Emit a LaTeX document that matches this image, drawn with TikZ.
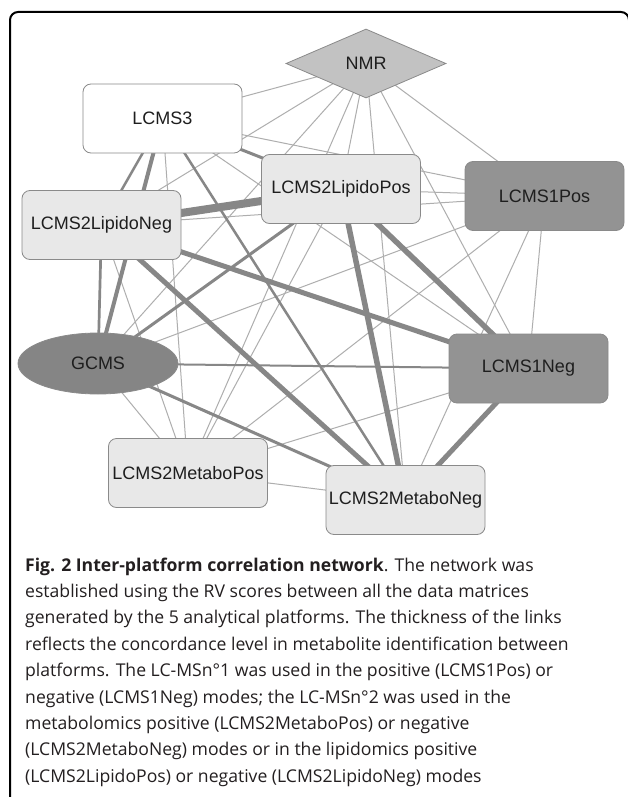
\documentclass[tikz,border=0pt]{standalone}
\usepackage{fontspec}
\setmainfont{Liberation Sans}
\newfontfamily\capfont{Open Sans}
\usetikzlibrary{shapes.geometric,backgrounds}
\definecolor{edgegray}{HTML}{878787}
\definecolor{thingray}{HTML}{AEAEAE}
\definecolor{lightfill}{HTML}{E8E8E8}
\definecolor{darkfill}{HTML}{939393}
\definecolor{gcfill}{HTML}{858585}
\definecolor{nmrfill}{HTML}{C2C2C2}
\definecolor{bord}{HTML}{8A8A8A}
\definecolor{txt}{HTML}{1E1E1E}
\definecolor{captxt}{HTML}{231F20}
\tikzset{
  nd/.style={draw=bord, line width=0.8pt, inner sep=0pt, font=\fontsize{18}{20}\selectfont, text=txt},
  rbox/.style={nd, rounded corners=8pt, minimum width=159pt, minimum height=69pt},
  wbox/.style={rbox, fill=white},
  lbox/.style={rbox, fill=lightfill},
  dbox/.style={rbox, fill=darkfill},
  ellnode/.style={nd, ellipse, fill=gcfill, minimum width=160pt, minimum height=61pt},
  dianode/.style={nd, diamond, fill=nmrfill, aspect=2.32, minimum width=160pt, minimum height=69pt},
  lightlink/.style={draw=thingray, line width=1pt},
  heavylink/.style={draw=edgegray},
  capline/.style={anchor=base west, inner sep=0pt, text=captxt, font=\capfont\fontsize{17.6}{20}\selectfont},
  framestyle/.style={draw=black, line width=2pt, rounded corners=8pt}
}
\begin{document}
\begin{tikzpicture}[x=1pt,y=-1pt]
\useasboundingbox (0,0) rectangle (627,797);
\draw[framestyle] (10,805) -- (10,12) -- (629,12) -- (629,805);

\node[dianode] (N) at (366,63.5) {NMR};
\node[wbox] (L3) at (162.5,118.5) {LCMS3};
\node[lbox] (LP) at (341,189) {LCMS2LipidoPos};
\node[dbox] (P1) at (544.5,196) {LCMS1Pos};
\node[lbox] (LN) at (101.5,225) {LCMS2LipidoNeg};
\node[ellnode] (G) at (98,363.5) {GCMS};
\node[dbox] (N1) at (528.5,368.5) {LCMS1Neg};
\node[lbox] (MP) at (188,473) {LCMS2MetaboPos};
\node[lbox] (MN) at (405.5,500) {LCMS2MetaboNeg};

\begin{scope}[on background layer]
\fill[white] (0,0) rectangle (627,797);
\foreach \a/\b in {N/L3,N/LP,N/P1,N/LN,N/G,N/N1,N/MP,N/MN,
                   L3/P1,L3/N1,L3/MP,LP/P1,LP/MP,
                   P1/LN,P1/G,P1/N1,P1/MP,P1/MN,
                   LN/MP,G/MP,N1/MP,MP/MN}
  \draw[lightlink] (\a.center) -- (\b.center);
\foreach \a/\b/\w in {LP/LN/8,LP/N1/5.5,LP/MN/5.5,LN/N1/5,LN/MN/5,N1/MN/5,
                      L3/G/4,G/MN/3,L3/MN/2.5,LP/G/3,L3/LN/2.5,LN/G/2.7,
                      G/N1/2,L3/LP/3}
  \draw[heavylink, line width=\w pt] (\a.center) -- (\b.center);
\end{scope}

\node[capline] (c1) at (25,571) {\textbf{Fig. 2 Inter-platform correlation network}. The network was};
\node[capline] (c2) at (25,597.4) {established using the RV scores between all the data matrices};
\node[capline] (c3) at (25,623.8) {generated by the 5 analytical platforms. The thickness of the links};
\node[capline] (c4) at (25,650.2) {reflects the concordance level in metabolite identification between};
\node[capline] (c5) at (25,676.6) {platforms. The LC-MSn°1 was used in the positive (LCMS1Pos) or};
\node[capline] (c6) at (25,703) {negative (LCMS1Neg) modes; the LC-MSn°2 was used in the};
\node[capline] (c7) at (25,729.4) {metabolomics positive (LCMS2MetaboPos) or negative};
\node[capline] (c8) at (25,755.8) {(LCMS2MetaboNeg) modes or in the lipidomics positive};
\node[capline] (c9) at (25,782.2) {(LCMS2LipidoPos) or negative (LCMS2LipidoNeg) modes};
\end{tikzpicture}
\end{document}
